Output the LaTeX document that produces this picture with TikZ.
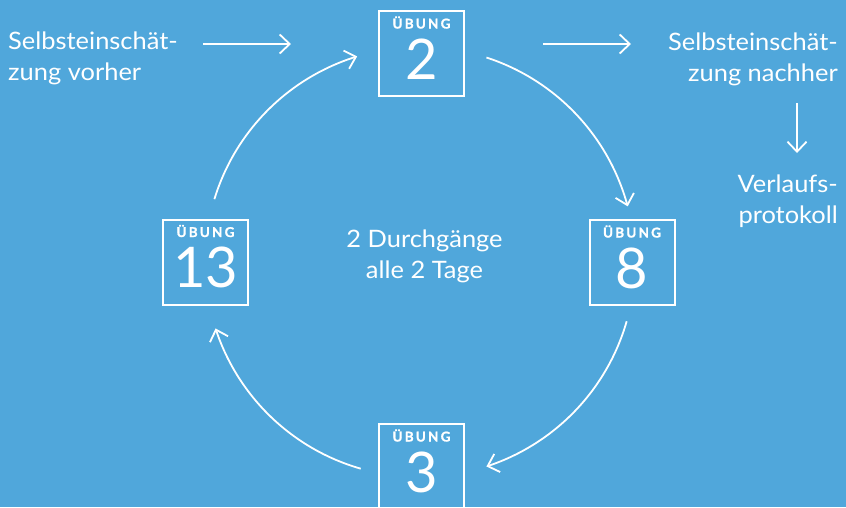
\documentclass[tikz,border=0pt]{standalone}
\usepackage{fontspec}
\setmainfont{Lato}[FakeStretch=1.06]
\IfFontExistsTF{Lato Bold}{\newfontfamily\ubfont{Lato Bold}[FakeBold=1.2]}{\newfontfamily\ubfont{Lato}[FakeBold=3.5]}
\newfontfamily\numfont{Lato}
\usetikzlibrary{arrows.meta,bending}
\definecolor{bg}{RGB}{80,167,219}
\newcommand\ubungword{Ü\kern2.2ptB\kern2.2ptU\kern2.2ptN\kern2.2ptG}
\begin{document}
\begin{tikzpicture}[x=1pt,y=-1pt,
  box/.style={draw=white,line width=2pt,minimum size=85pt,inner sep=0pt},
  ub/.style={text=white,font=\ubfont\fontsize{13.5}{13.5}\selectfont,inner sep=0pt,anchor=base},
  num/.style={text=white,font=\numfont\fontsize{56}{56}\selectfont,inner sep=0pt,anchor=base},
  lbl/.style={text=white,font=\fontsize{24}{31}\selectfont,inner sep=0pt},
  arr/.style={draw=white,line width=1.8pt,-{Straight Barb[length=10pt,width=19pt]}},
]
\fill[bg] (0,0) rectangle (846,507);
\useasboundingbox (0,0) rectangle (846,507);
% boxes
\node[box] (b2) at (421.5,53.5) {};
\node[box] (b8) at (632,262.5) {};
\node[box] (b13) at (205.5,262) {};
\node[box] (b3) at (421.5,466.5) {};
\foreach \b/\n in {b2/2,b8/8,b13/13,b3/3}{
  \node[ub] (u\b) at ([yshift=-18.5pt]\b.north) {\ubungword};
  \node[num] (n\b) at ([yshift=-69pt]\b.north) {\n};
}
% texts
\node[lbl,align=left,anchor=north west] (lt) at (8,32) {Selbsteinschät-\\zung vorher};
\node[lbl,align=right,anchor=north east] (rt) at (838,33) {Selbsteinschät-\\zung nachher};
\node[lbl,align=right,anchor=north east] (vp) at (838,175) {Verlaufs-\\protokoll};
\node[lbl,align=center,anchor=north] (ct) at (424.5,229.5) {2 Durchgänge\\alle 2 Tage};
% cycle arrows
\coordinate (c) at (420,262);
\draw[arr] ([shift={(-72:215)}]c) arc[start angle=-72,end angle=-15,radius=215];
\draw[arr] ([shift={(16:215)}]c) arc[start angle=16,end angle=72,radius=215];
\draw[arr] ([shift={(106:215)}]c) arc[start angle=106,end angle=162,radius=215];
\draw[arr] ([shift={(197:215)}]c) arc[start angle=197,end angle=253,radius=215];
% straight arrows
\coordinate (la1) at (203,44);
\coordinate (la2) at (291,44);
\coordinate (ra1) at (543,44);
\coordinate (ra2) at (631,44);
\coordinate (va1) at (797,103);
\coordinate (va2) at (797,153);
\draw[arr] (la1) -- (la2);
\draw[arr] (ra1) -- (ra2);
\draw[arr] (va1) -- (va2);
\end{tikzpicture}
\end{document}
